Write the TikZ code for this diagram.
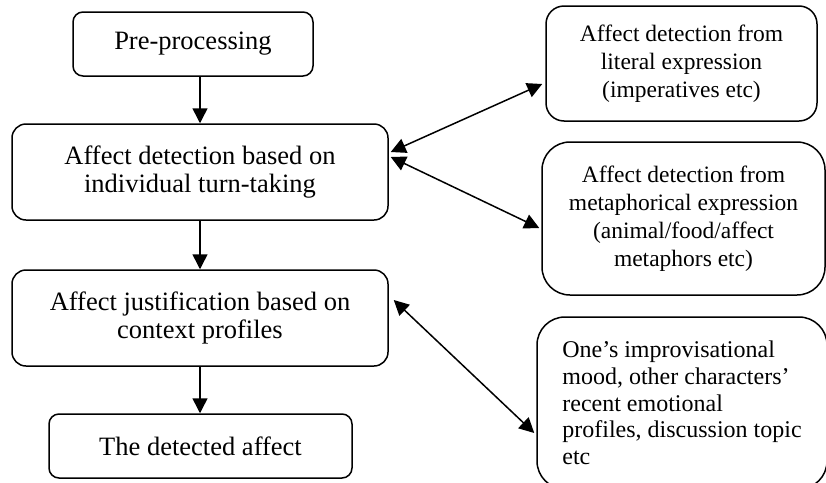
\documentclass[tikz,border=0pt]{standalone}
\usepackage{fontspec}
\setmainfont{Liberation Serif}
\usetikzlibrary{arrows.meta}
\begin{document}
\begin{tikzpicture}[x=1pt,y=-1pt,
  box/.style={draw,line width=1.5pt,align=center,inner sep=0pt},
  mainfont/.style={font=\fontsize{26.5}{28.5}\selectfont},
  sidefont/.style={font=\fontsize{23.5}{28}\selectfont},
  ctxfont/.style={font=\fontsize{24}{26.7}\selectfont},
  tip/.style={},
  arr/.style={line width=1.5pt,-{Triangle[length=15pt,width=15pt]}},
  darr/.style={line width=1.5pt,{Triangle[length=15pt,width=15pt]}-{Triangle[length=15pt,width=15pt]}}]
\useasboundingbox (0,0) rectangle (826,482);
\node[box,mainfont,rounded corners=10pt,minimum width=240pt,minimum height=64pt] (A) at (193,44) {Pre-processing};
\node[box,mainfont,rounded corners=14pt,minimum width=376pt,minimum height=96pt] (B) at (200,172) {Affect detection based on\\individual turn-taking};
\node[box,mainfont,rounded corners=14pt,minimum width=376pt,minimum height=96pt] (C) at (200,318) {Affect justification based on\\context profiles};
\node[box,mainfont,rounded corners=10pt,minimum width=303pt,minimum height=64pt] (D) at (200.5,446) {The detected affect};
\node[box,sidefont,rounded corners=18pt,minimum width=271pt,minimum height=115pt] (E) at (681.5,63.5) {Affect detection from\\literal expression\\(imperatives etc)};
\node[box,sidefont,rounded corners=28pt,minimum width=283pt,minimum height=153pt] (F) at (683.5,218.5) {Affect detection from\\metaphorical expression\\(animal/food/affect\\metaphors etc)};
\node[box,ctxfont,rounded corners=28pt,minimum width=290pt,minimum height=172pt,align=left] (G) at (682,403) {One’s improvisational\\mood, other characters’\\recent emotional\\profiles, discussion topic\\etc};
\draw[arr] (B.north |- A.south) -- (B.north);
\draw[arr] (B.south) -- (C.north);
\draw[arr] (C.south) -- (C.south |- D.north);
\draw[darr] ([xshift=2pt,yshift=20pt]B.east) -- ([xshift=-3pt,yshift=-20.5pt]E.west);
\draw[darr] ([xshift=2pt,yshift=15pt]B.east) -- ([xshift=-2pt,yshift=-9.5pt]F.west);
\draw[darr] ([xshift=5pt,yshift=18pt]C.east) -- ([xshift=-2pt,yshift=-30pt]G.west);
\end{tikzpicture}
\end{document}
